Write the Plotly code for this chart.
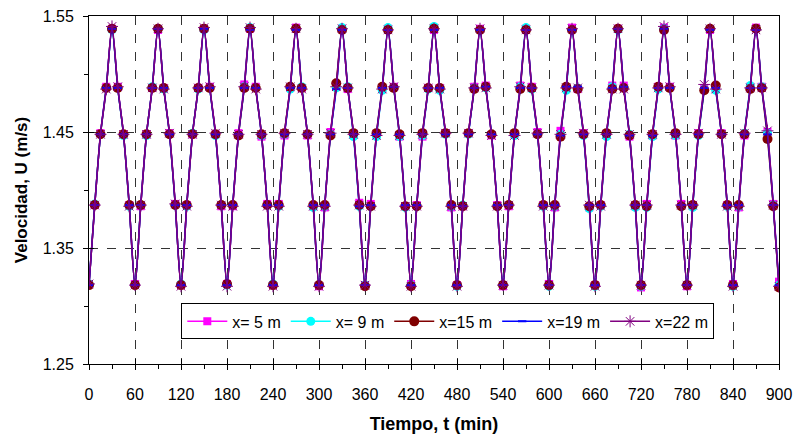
import plotly.graph_objects as go

t_min = [0, 7.5, 15, 22.5, 30, 37.5, 45, 52.5,
         60, 67.5, 75, 82.5, 90, 97.5, 105, 112.5,
         120, 127.5, 135, 142.5, 150, 157.5, 165, 172.5,
         180, 187.5, 195, 202.5, 210, 217.5, 225, 232.5,
         240, 247.5, 255, 262.5, 270, 277.5, 285, 292.5,
         300, 307.5, 315, 322.5, 330, 337.5, 345, 352.5,
         360, 367.5, 375, 382.5, 390, 397.5, 405, 412.5,
         420, 427.5, 435, 442.5, 450, 457.5, 465, 472.5,
         480, 487.5, 495, 502.5, 510, 517.5, 525, 532.5,
         540, 547.5, 555, 562.5, 570, 577.5, 585, 592.5,
         600, 607.5, 615, 622.5, 630, 637.5, 645, 652.5,
         660, 667.5, 675, 682.5, 690, 697.5, 705, 712.5,
         720, 727.5, 735, 742.5, 750, 757.5, 765, 772.5,
         780, 787.5, 795, 802.5, 810, 817.5, 825, 832.5,
         840, 847.5, 855, 862.5, 870, 877.5, 885, 892.5,
         900]

u_x5 = [1.319, 1.387, 1.449, 1.489, 1.539, 1.489, 1.448, 1.387,
        1.319, 1.386, 1.448, 1.488, 1.538, 1.488, 1.449, 1.388,
        1.318, 1.387, 1.448, 1.488, 1.539, 1.489, 1.448, 1.386,
        1.319, 1.386, 1.449, 1.491, 1.539, 1.489, 1.446, 1.388,
        1.318, 1.388, 1.447, 1.488, 1.540, 1.488, 1.447, 1.386,
        1.317, 1.385, 1.450, 1.489, 1.539, 1.487, 1.448, 1.389,
        1.318, 1.388, 1.448, 1.487, 1.539, 1.489, 1.446, 1.386,
        1.319, 1.387, 1.446, 1.488, 1.538, 1.488, 1.449, 1.385,
        1.318, 1.386, 1.449, 1.489, 1.539, 1.490, 1.447, 1.387,
        1.317, 1.386, 1.448, 1.490, 1.539, 1.489, 1.450, 1.387,
        1.319, 1.385, 1.451, 1.488, 1.540, 1.487, 1.449, 1.385,
        1.318, 1.387, 1.448, 1.490, 1.539, 1.490, 1.446, 1.386,
        1.316, 1.388, 1.447, 1.489, 1.540, 1.489, 1.447, 1.388,
        1.317, 1.387, 1.449, 1.488, 1.538, 1.487, 1.449, 1.387,
        1.319, 1.385, 1.447, 1.489, 1.540, 1.489, 1.450, 1.388,
        1.321]

u_x9 = [1.319, 1.388, 1.448, 1.488, 1.538, 1.488, 1.447, 1.386,
        1.318, 1.387, 1.447, 1.489, 1.539, 1.487, 1.448, 1.387,
        1.319, 1.386, 1.449, 1.487, 1.538, 1.488, 1.447, 1.387,
        1.318, 1.387, 1.447, 1.489, 1.540, 1.488, 1.447, 1.387,
        1.319, 1.386, 1.448, 1.487, 1.539, 1.489, 1.448, 1.385,
        1.318, 1.386, 1.448, 1.488, 1.540, 1.489, 1.446, 1.386,
        1.318, 1.386, 1.446, 1.486, 1.540, 1.488, 1.446, 1.385,
        1.318, 1.386, 1.447, 1.487, 1.541, 1.486, 1.448, 1.386,
        1.317, 1.387, 1.448, 1.488, 1.538, 1.488, 1.448, 1.386,
        1.318, 1.387, 1.447, 1.489, 1.540, 1.487, 1.448, 1.386,
        1.317, 1.386, 1.448, 1.486, 1.538, 1.488, 1.447, 1.384,
        1.317, 1.386, 1.446, 1.489, 1.538, 1.488, 1.448, 1.385,
        1.317, 1.385, 1.446, 1.487, 1.539, 1.488, 1.447, 1.386,
        1.318, 1.385, 1.447, 1.487, 1.539, 1.486, 1.448, 1.386,
        1.317, 1.386, 1.449, 1.490, 1.539, 1.489, 1.449, 1.387,
        1.318]

u_x15 = [1.318, 1.387, 1.448, 1.488, 1.539, 1.488, 1.448, 1.387,
         1.318, 1.387, 1.448, 1.488, 1.539, 1.488, 1.448, 1.387,
         1.318, 1.387, 1.448, 1.488, 1.539, 1.488, 1.448, 1.387,
         1.319, 1.387, 1.447, 1.488, 1.539, 1.488, 1.448, 1.387,
         1.318, 1.387, 1.449, 1.489, 1.539, 1.488, 1.448, 1.387,
         1.318, 1.387, 1.447, 1.492, 1.538, 1.488, 1.449, 1.387,
         1.317, 1.386, 1.449, 1.489, 1.538, 1.488, 1.448, 1.386,
         1.317, 1.386, 1.449, 1.488, 1.539, 1.488, 1.449, 1.387,
         1.318, 1.386, 1.449, 1.487, 1.538, 1.489, 1.448, 1.386,
         1.318, 1.387, 1.449, 1.487, 1.538, 1.488, 1.448, 1.387,
         1.318, 1.387, 1.446, 1.489, 1.538, 1.487, 1.448, 1.386,
         1.318, 1.387, 1.449, 1.487, 1.539, 1.488, 1.447, 1.387,
         1.318, 1.386, 1.448, 1.489, 1.538, 1.488, 1.449, 1.386,
         1.318, 1.387, 1.448, 1.486, 1.539, 1.490, 1.448, 1.387,
         1.318, 1.387, 1.448, 1.487, 1.539, 1.488, 1.444, 1.386,
         1.316]

u_x19 = [1.318, 1.387, 1.448, 1.488, 1.539, 1.488, 1.448, 1.387,
         1.318, 1.387, 1.448, 1.488, 1.539, 1.488, 1.448, 1.387,
         1.318, 1.387, 1.448, 1.488, 1.539, 1.488, 1.448, 1.387,
         1.318, 1.387, 1.448, 1.488, 1.538, 1.488, 1.448, 1.387,
         1.318, 1.387, 1.448, 1.488, 1.538, 1.488, 1.448, 1.387,
         1.318, 1.387, 1.448, 1.487, 1.538, 1.488, 1.448, 1.386,
         1.318, 1.387, 1.448, 1.488, 1.538, 1.489, 1.448, 1.387,
         1.318, 1.387, 1.448, 1.488, 1.538, 1.488, 1.448, 1.387,
         1.318, 1.386, 1.448, 1.488, 1.538, 1.489, 1.448, 1.387,
         1.318, 1.387, 1.448, 1.488, 1.538, 1.488, 1.448, 1.387,
         1.318, 1.387, 1.447, 1.489, 1.538, 1.489, 1.448, 1.387,
         1.318, 1.387, 1.448, 1.488, 1.539, 1.489, 1.447, 1.387,
         1.318, 1.387, 1.447, 1.488, 1.539, 1.488, 1.448, 1.387,
         1.318, 1.387, 1.448, 1.488, 1.538, 1.488, 1.448, 1.387,
         1.318, 1.387, 1.448, 1.488, 1.538, 1.488, 1.448, 1.387,
         1.318]

u_x22 = [1.319, 1.387, 1.448, 1.487, 1.541, 1.489, 1.448, 1.386,
         1.318, 1.387, 1.448, 1.488, 1.539, 1.487, 1.449, 1.388,
         1.317, 1.386, 1.448, 1.488, 1.540, 1.489, 1.449, 1.387,
         1.317, 1.386, 1.448, 1.489, 1.540, 1.487, 1.448, 1.386,
         1.317, 1.386, 1.449, 1.489, 1.539, 1.487, 1.448, 1.386,
         1.317, 1.386, 1.449, 1.489, 1.539, 1.488, 1.448, 1.387,
         1.318, 1.386, 1.447, 1.487, 1.538, 1.489, 1.447, 1.386,
         1.317, 1.386, 1.448, 1.488, 1.539, 1.487, 1.449, 1.386,
         1.317, 1.386, 1.449, 1.488, 1.539, 1.488, 1.447, 1.386,
         1.318, 1.387, 1.447, 1.489, 1.538, 1.488, 1.449, 1.386,
         1.318, 1.386, 1.448, 1.488, 1.539, 1.488, 1.449, 1.387,
         1.317, 1.386, 1.448, 1.487, 1.539, 1.487, 1.448, 1.387,
         1.318, 1.387, 1.448, 1.488, 1.541, 1.489, 1.448, 1.387,
         1.318, 1.387, 1.449, 1.491, 1.539, 1.487, 1.448, 1.386,
         1.317, 1.386, 1.449, 1.488, 1.538, 1.488, 1.451, 1.387,
         1.317]

series_names = ["x= 5 m", "x= 9 m", "x=15 m", "x=19 m", "x=22 m"]

x_tick_vals = [0, 60, 120, 180, 240, 300, 360, 420, 480, 540, 600, 660, 720, 780, 840, 900]
y_tick_vals = [1.25, 1.35, 1.45, 1.55]
y_tick_text = ["1.25", "1.35", "1.45", "1.55"]

styles = [
    dict(color="#FF00FF", marker=dict(symbol="square", size=8, color="#FF00FF")),
    dict(color="#00FFFF", marker=dict(symbol="circle", size=9, color="#00FFFF")),
    dict(color="#800000", marker=dict(symbol="circle", size=10, color="#800000")),
    dict(color="#0000FF", marker=dict(symbol="line-ew-open", size=6, color="#0000FF",
                                      line=dict(color="#0000FF", width=2))),
    dict(color="#800080", marker=dict(symbol="asterisk-open", size=10, color="#800080",
                                      line=dict(color="#800080", width=1))),
]

fig = go.Figure()
for name, ys, st in zip(series_names, [u_x5, u_x9, u_x15, u_x19, u_x22], styles):
    fig.add_trace(go.Scatter(
        x=t_min, y=ys, name=name, mode="lines+markers",
        line=dict(color=st["color"], width=1.5, shape="spline", smoothing=0.8),
        marker=st["marker"],
    ))

font_family = "Liberation Sans, Arial, sans-serif"

fig.update_layout(
    width=797, height=434,
    margin=dict(l=89, r=18, t=16, b=70),
    paper_bgcolor="white", plot_bgcolor="white",
    font=dict(family=font_family, size=16, color="black"),
    showlegend=True,
    legend=dict(
        orientation="h", x=0.52, y=0.174, xanchor="center", yanchor="top",
        bgcolor="white", bordercolor="black", borderwidth=1,
        font=dict(family=font_family, size=16, color="black"),
        itemwidth=40, tracegroupgap=0, traceorder="normal",
    ),
    xaxis=dict(
        range=[0, 900], tickvals=x_tick_vals, ticktext=[str(v) for v in x_tick_vals],
        showline=True, linecolor="black", linewidth=1, mirror=True,
        ticks="outside", ticklen=5, tickcolor="black", tickwidth=1,
        minor=dict(dtick=30, tick0=0, ticks="outside", ticklen=4, tickcolor="black", showgrid=False),
        showgrid=True, gridcolor="#333333", griddash="dash", gridwidth=1,
        zeroline=False, ticklabelstandoff=11, automargin=False,
        title=dict(text="<b>Tiempo, t (min)</b>", font=dict(size=18), standoff=16),
        tickfont=dict(size=16),
    ),
    yaxis=dict(
        range=[1.25, 1.55], tickvals=y_tick_vals, ticktext=y_tick_text,
        showline=True, linecolor="black", linewidth=1, mirror=True,
        ticks="outside", ticklen=5, tickcolor="black", tickwidth=1,
        minor=dict(dtick=0.05, tick0=1.25, ticks="outside", ticklen=4, tickcolor="black", showgrid=False),
        showgrid=True, gridcolor="#333333", griddash="dash", gridwidth=1,
        zeroline=False, ticklabelstandoff=6, automargin=False,
        title=dict(text="<b>Velocidad, U (m/s)</b>", font=dict(size=17), standoff=10),
        tickfont=dict(size=16),
    ),
    xaxis2=dict(range=[0, 900], overlaying="x", tickvals=x_tick_vals, showticklabels=False,
                ticks="inside", ticklen=5, tickcolor="black", showgrid=False, zeroline=False,
                showline=False, side="bottom", anchor="y", automargin=False),
    yaxis2=dict(range=[1.25, 1.55], overlaying="y", tickvals=y_tick_vals, showticklabels=False,
                ticks="inside", ticklen=5, tickcolor="black", showgrid=False, zeroline=False,
                showline=False, side="left", anchor="x", automargin=False),
)

# invisible trace to activate overlay axes for crossing ticks
fig.add_trace(go.Scatter(x=[t_min[0]], y=[u_x5[0]], xaxis="x2", yaxis="y2",
                         mode="markers", marker=dict(opacity=0), showlegend=False,
                         hoverinfo="skip"))

fig.write_html("out.html")
